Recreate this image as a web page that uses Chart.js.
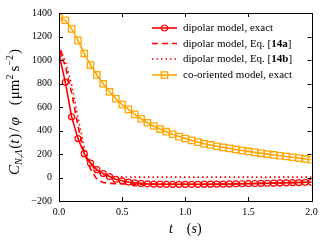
<!DOCTYPE html>
<html>
<head>
<meta charset="utf-8">
<script src="https://cdn.jsdelivr.net/npm/chart.js@4/dist/chart.umd.min.js"></script>
<style>
html, body { margin: 0; padding: 0; background: #fff; }
</style>
</head>
<body>
<canvas id="chart" width="323" height="241"></canvas>
<script>
// time grid (s)
const times = [0, 0.05, 0.1, 0.15, 0.2, 0.25, 0.3, 0.35, 0.4, 0.45,
    0.5, 0.55, 0.6, 0.65, 0.7, 0.75, 0.8, 0.85, 0.9, 0.95,
    1.0, 1.05, 1.1, 1.15, 1.2, 1.25, 1.3, 1.35, 1.4, 1.45,
    1.5, 1.55, 1.6, 1.65, 1.7, 1.75, 1.8, 1.85, 1.9, 1.95, 2.0];

const dipolarExact = [1053, 810, 517, 331, 203, 122, 67, 33, 8, -15,
    -28, -39, -46, -50, -54, -56, -57, -58, -58, -58,
    -58, -58, -58, -57, -57, -56, -56, -55, -54, -53,
    -52, -51, -50, -49, -48, -46, -45, -44, -43, -41, -40];

const dipolarEq14a = [1090, 950, 720, 440, 210, 70, -15, -42, -50, -52,
    -54, -55, -56, -56, -57, -57, -57, -58, -58, -58,
    -58, -58, -58, -57, -57, -56, -56, -55, -54, -53,
    -52, -51, -50, -49, -48, -46, -45, -44, -43, -41, -40];

const dipolarEq14b = [1120, 990, 790, 510, 260, 115, 50, 24, 12, 7,
    5, 4, 3, 3, 3, 3, 3, 3, 3, 3,
    3, 3, 3, 3, 3, 3, 3, 3, 3, 3,
    3, 3, 3, 3, 3, 3, 3, 3, 3, 3, 3];

const coOrientedExact = [1362, 1338, 1265, 1167, 1055, 957, 873, 798, 730, 670,
    621, 580, 537, 500, 466, 438, 412, 390, 368, 348,
    332, 316, 301, 288, 277, 266, 257, 248, 239, 230,
    222, 214, 206, 199, 192, 185, 179, 172, 165, 158, 151];

const seriesNames = ['dipolar model, exact', 'dipolar model, Eq. [14a]',
    'dipolar model, Eq. [14b]', 'co-oriented model, exact'];
const xTicks = [0, 0.5, 1.0, 1.5, 2.0];
const yTicks = [-200, 0, 200, 400, 600, 800, 1000, 1200, 1400];

const RED = '#ff0000';
const ORANGE = '#ffa500';
const SERIF = '"Liberation Serif", "DejaVu Serif", serif';

function pts(vals) {
    return times.map((t, i) => ({ x: t, y: vals[i] }));
}

// draws a list of text pieces one after another, returns end x
function drawPieces(ctx, pieces, x, y, measureOnly) {
    pieces.forEach(p => {
        ctx.font = p.font;
        if (!measureOnly) ctx.fillText(p.text, x + (p.pre || 0), y + (p.dy || 0));
        x += (p.pre || 0) + ctx.measureText(p.text).width + (p.post || 0);
    });
    return x;
}

const decorations = {
    id: 'decorations',
    afterDraw(chart) {
        const ctx = chart.ctx;
        const a = chart.chartArea;
        const xs = chart.scales.x, ys = chart.scales.y;
        ctx.save();
        ctx.strokeStyle = '#000';
        ctx.lineWidth = 1;

        // inward ticks on all sides
        ctx.beginPath();
        xTicks.forEach(v => {
            const px = Math.round(xs.getPixelForValue(v)) + 0.5;
            ctx.moveTo(px, a.bottom); ctx.lineTo(px, a.bottom - 4);
            ctx.moveTo(px, a.top); ctx.lineTo(px, a.top + 4);
        });
        yTicks.forEach(v => {
            const py = Math.round(ys.getPixelForValue(v)) + 0.5;
            ctx.moveTo(a.left, py); ctx.lineTo(a.left + 4, py);
            ctx.moveTo(a.right, py); ctx.lineTo(a.right - 4, py);
        });
        ctx.stroke();
        ctx.strokeRect(Math.round(a.left) + 0.5, Math.round(a.top) + 0.5,
            Math.round(a.right - a.left), Math.round(a.bottom - a.top));

        ctx.fillStyle = '#000';
        ctx.textBaseline = 'alphabetic';
        ctx.textAlign = 'left';

        // x title
        const xt = [
            { text: 't', font: 'italic 14px ' + SERIF, post: 14 },
            { text: '(', font: '14px ' + SERIF },
            { text: 's', font: 'italic 14px ' + SERIF },
            { text: ')', font: '14px ' + SERIF }
        ];
        const xw = drawPieces(ctx, xt, 0, 0, true);
        drawPieces(ctx, xt, (a.left + a.right) / 2 - xw / 2, 233);

        // y title, rotated
        const yt = [
            { text: 'C', font: 'italic 15px ' + SERIF },
            { text: 'N,Λ', font: 'italic 10px ' + SERIF, dy: 3, post: 1 },
            { text: '(', font: '15px ' + SERIF },
            { text: 't', font: 'italic 15px ' + SERIF, post: 1 },
            { text: ')', font: '15px ' + SERIF, post: 2 },
            { text: '/', font: '15px ' + SERIF, post: 2 },
            { text: 'φ', font: 'italic 15px ' + SERIF, post: 12 },
            { text: '(', font: '15px ' + SERIF, post: 1 },
            { text: 'μm', font: '15px ' + SERIF },
            { text: '2', font: '10px ' + SERIF, dy: -6, post: 3 },
            { text: 's', font: '15px ' + SERIF },
            { text: '−2', font: '10px ' + SERIF, dy: -6, post: 1 },
            { text: ')', font: '15px ' + SERIF }
        ];
        const yw = drawPieces(ctx, yt, 0, 0, true);
        ctx.save();
        ctx.translate(19, 112 + yw / 2);
        ctx.rotate(-Math.PI / 2);
        drawPieces(ctx, yt, 0, 0);
        ctx.restore();

        // legend
        const rowY = [28, 43.5, 59, 75];
        chart.data.datasets.forEach((ds, i) => {
            const y = rowY[i];
            const x0 = 152, x1 = 177;
            const xm = (x0 + x1) / 2;
            ctx.save();
            ctx.strokeStyle = ds.borderColor;
            ctx.lineWidth = ds.borderWidth;
            ctx.setLineDash(ds.borderDash || []);
            ctx.beginPath();
            ctx.moveTo(x0, y); ctx.lineTo(x1, y);
            ctx.stroke();
            ctx.setLineDash([]);
            if (ds.pointRadius > 0) {
                ctx.lineWidth = ds.pointBorderWidth;
                ctx.strokeStyle = ds.borderColor;
                ctx.beginPath();
                if (ds.pointStyle === 'rect') {
                    const s = ds.pointRadius * Math.SQRT1_2;
                    ctx.rect(xm - s, y - s, 2 * s, 2 * s);
                } else {
                    ctx.arc(xm, y, ds.pointRadius, 0, Math.PI * 2);
                }
                ctx.stroke();
            }
            ctx.restore();

            // label, with the equation number in bold
            const label = seriesNames[i];
            const m = label.match(/^(.*\[)(.*)(\])$/);
            const pieces = m
                ? [{ text: m[1], font: '11px ' + SERIF }, { text: m[2], font: 'bold 11px ' + SERIF }, { text: m[3], font: '11px ' + SERIF }]
                : [{ text: label, font: '11px ' + SERIF }];
            ctx.textBaseline = 'middle';
            drawPieces(ctx, pieces, 183, y + 0.5);
        });
        ctx.restore();
    }
};

const ctx = document.getElementById('chart').getContext('2d');

new Chart(ctx, {
    type: 'line',
    data: {
        datasets: [{
            label: seriesNames[0],
            data: pts(dipolarExact),
            borderColor: RED,
            borderWidth: 1.6,
            pointStyle: 'circle',
            pointRadius: 3,
            pointBorderWidth: 1.2,
            pointBorderColor: RED,
            pointBackgroundColor: 'rgba(255,255,255,0)',
            order: 1
        }, {
            label: seriesNames[1],
            data: pts(dipolarEq14a),
            borderColor: RED,
            borderWidth: 1.6,
            borderDash: [6, 4],
            pointRadius: 0,
            order: 2
        }, {
            label: seriesNames[2],
            data: pts(dipolarEq14b),
            borderColor: RED,
            borderWidth: 1.6,
            borderDash: [1.5, 3],
            pointRadius: 0,
            order: 3
        }, {
            label: seriesNames[3],
            data: pts(coOrientedExact),
            borderColor: ORANGE,
            borderWidth: 1.6,
            pointStyle: 'rect',
            pointRadius: 4.5,
            pointBorderWidth: 1.3,
            pointBorderColor: ORANGE,
            pointBackgroundColor: 'rgba(255,255,255,0)',
            order: 4
        }]
    },
    options: {
        responsive: false,
        animation: false,
        devicePixelRatio: 1,
        layout: { padding: { top: 9, right: 11.5, left: 0, bottom: 0 } },
        plugins: {
            legend: { display: false },
            tooltip: { enabled: false }
        },
        scales: {
            x: {
                type: 'linear',
                min: 0,
                max: 2,
                afterBuildTicks: s => { s.ticks = xTicks.map(v => ({ value: v })); },
                afterFit: s => { s.height = 40; },
                grid: { display: false, drawTicks: false },
                border: { display: false },
                ticks: {
                    color: '#000',
                    padding: 5,
                    maxRotation: 0,
                    autoSkip: false,
                    font: { family: SERIF, size: 10 },
                    callback: v => v.toFixed(1)
                }
            },
            y: {
                min: -200,
                max: 1400,
                afterBuildTicks: s => { s.ticks = yTicks.map(v => ({ value: v })); },
                afterFit: s => { s.width = 59; },
                grid: { display: false, drawTicks: false },
                border: { display: false },
                ticks: {
                    color: '#000',
                    padding: 7,
                    font: { family: SERIF, size: 10 },
                    callback: v => v < 0 ? '\u2212' + Math.abs(v) : String(v)
                }
            }
        }
    },
    plugins: [decorations]
});
</script>
</body>
</html>
